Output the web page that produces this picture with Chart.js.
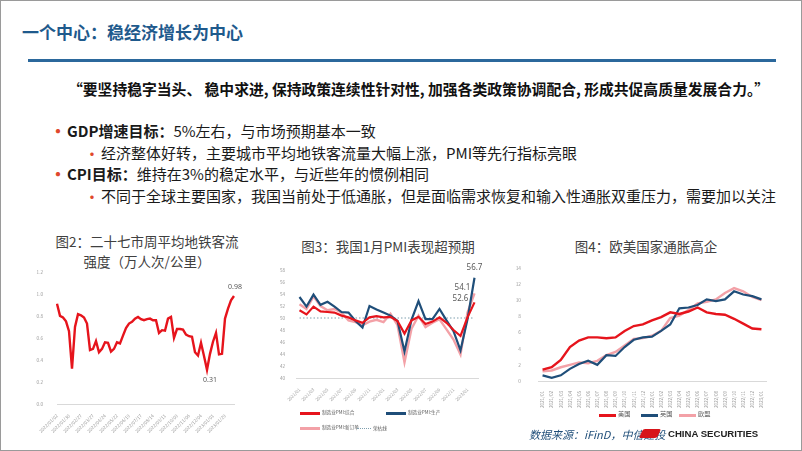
<!DOCTYPE html>
<html><head><meta charset="utf-8">
<script src="https://cdn.jsdelivr.net/npm/chart.js@4.4.1/dist/chart.umd.min.js"></script>
<style>
html,body{margin:0;padding:0;background:#fff;}
#slide{position:relative;width:802px;height:451px;overflow:hidden;box-sizing:border-box;border:1px solid #9a9a9a;font-family:"Noto Sans CJK SC","Noto Sans",sans-serif;color:#1a1a1a;}
.abs{position:absolute;white-space:nowrap;}
.title{left:21px;top:19px;font-size:17px;line-height:24px;font-weight:bold;color:#1f5a8c;}
.rule{left:27px;top:58px;width:748px;height:3px;background:#2b689c;}
.quote{left:67px;top:78px;font-size:14.8px;line-height:20px;font-weight:bold;color:#111;}
.b1,.b2{font-size:15px;line-height:20px;color:#1a1a1a;}
.dot1{color:#e0482c;font-size:20px;line-height:20px;}
.dot2{color:#e0482c;font-size:16px;line-height:20px;}
.ctitle{font-size:13.5px;line-height:18px;color:#404040;text-align:center;}
.box{position:absolute;}
.lg{position:absolute;font-size:4.6px;line-height:6px;color:#595959;white-space:nowrap;}
.smp{position:absolute;height:0;}
.foot{left:528px;top:425px;font-size:11px;line-height:16px;font-style:italic;color:#1f4e79;}
.cs{left:667px;top:425px;font-size:9.6px;line-height:16px;font-weight:bold;color:#222;font-family:"Liberation Sans",Arial,sans-serif;}
</style></head>
<body>
<div id="slide">
  <div class="abs title">一个中心：稳经济增长为中心</div>
  <div class="abs rule"></div>
  <div class="abs quote">“要坚持稳字当头、 稳中求进, 保持政策连续性针对性, 加强各类政策协调配合, 形成共促高质量发展合力。”</div>

  <div class="abs dot1" style="left:47px;top:120px;">•</div>
  <div class="abs b1" style="left:66px;top:120px;"><b>GDP增速目标：</b>5%左右，与市场预期基本一致</div>
  <div class="abs dot2" style="left:83px;top:142px;">•</div>
  <div class="abs b2" style="left:100px;top:142px;">经济整体好转，主要城市平均地铁客流量大幅上涨，PMI等先行指标亮眼</div>
  <div class="abs dot1" style="left:47px;top:163px;">•</div>
  <div class="abs b1" style="left:66px;top:163px;"><b>CPI目标：</b>维持在3%的稳定水平，与近些年的惯例相同</div>
  <div class="abs dot2" style="left:83px;top:185px;">•</div>
  <div class="abs b2" style="left:100px;top:185px;">不同于全球主要国家，我国当前处于低通胀，但是面临需求恢复和输入性通胀双重压力，需要加以关注</div>

  <div class="abs ctitle" style="left:46px;top:231px;width:200px;">图2：二十七市周平均地铁客流</div>
  <div class="abs ctitle" style="left:46px;top:251px;width:200px;">强度（万人次/公里）</div>
  <div class="abs ctitle" style="left:287px;top:236px;width:200px;">图3：我国1月PMI表现超预期</div>
  <div class="abs ctitle" style="left:545px;top:236px;width:200px;">图4：欧美国家通胀高企</div>

  <div class="box" style="left:30px;top:262px;width:216px;height:171px;"><canvas id="c2"></canvas></div>
  <div class="box" style="left:268px;top:262px;width:220px;height:143px;"><canvas id="c3"></canvas></div>
  <div class="box" style="left:500px;top:255px;width:270px;height:155px;"><canvas id="c4"></canvas></div>

  <div id="lg3"></div>
  <div id="lg4"></div>

  <div class="abs foot">数据来源：iFinD，中信建投</div>
  <div class="abs" style="left:640px;top:428px;width:18px;height:9px;background:#d7141a;transform:skewX(-25deg);border-radius:2px;"></div>
  <div class="abs cs">CHINA SECURITIES</div>
</div>
<script>
// ---------- DATA ----------
const subwayLabels = [
 '2022/01/02','2022/01/09','2022/01/16','2022/01/23','2022/01/30','2022/02/06','2022/02/13','2022/02/20','2022/02/27',
 '2022/03/06','2022/03/13','2022/03/20','2022/03/27','2022/04/03','2022/04/10','2022/04/17','2022/04/24',
 '2022/05/01','2022/05/08','2022/05/15','2022/05/22','2022/05/29','2022/06/05','2022/06/12','2022/06/19','2022/06/26',
 '2022/07/03','2022/07/10','2022/07/17','2022/07/24','2022/07/31','2022/08/07','2022/08/14','2022/08/21','2022/08/28',
 '2022/09/04','2022/09/11','2022/09/18','2022/09/25','2022/10/02','2022/10/09','2022/10/16','2022/10/23','2022/10/30',
 '2022/11/06','2022/11/13','2022/11/20','2022/11/27','2022/12/04','2022/12/11','2022/12/18','2022/12/25',
 '2023/01/01','2023/01/08','2023/01/15','2023/01/22','2023/01/29','2023/02/05','2023/02/12','2023/02/19'];
const subwayValues = [
 0.91,0.80,0.785,0.75,0.66,0.32,0.70,0.815,0.805,0.785,0.73,0.49,0.50,0.57,0.47,0.50,0.56,0.555,0.475,0.50,
 0.56,0.55,0.62,0.69,0.73,0.745,0.775,0.79,0.77,0.76,0.77,0.775,0.76,0.76,0.645,0.67,0.665,0.775,0.79,0.60,
 0.68,0.68,0.675,0.63,0.615,0.61,0.47,0.44,0.555,0.435,0.31,0.455,0.565,0.645,0.45,0.455,0.775,0.865,0.94,0.98];

const pmiLabels = ['2021/01','2021/02','2021/03','2021/04','2021/05','2021/06','2021/07','2021/08','2021/09','2021/10','2021/11','2021/12',
 '2022/01','2022/02','2022/03','2022/04','2022/05','2022/06','2022/07','2022/08','2022/09','2022/10','2022/11','2022/12','2023/01','2023/02'];
const pmiComposite  = [51.3,50.6,51.9,51.1,51.0,50.9,50.4,50.1,49.6,49.2,50.1,50.3,50.1,50.2,49.5,47.4,49.6,50.2,49.0,49.4,50.1,49.2,48.0,47.0,50.1,52.6];
const pmiProduction = [53.5,51.9,53.9,52.2,52.7,51.9,51.0,50.9,49.5,48.4,52.0,51.4,50.9,50.4,49.5,44.4,49.7,52.8,49.8,49.8,51.5,49.6,47.8,44.6,49.8,56.7];
const pmiNewOrders  = [52.3,51.5,53.6,52.0,51.3,51.5,50.9,49.6,49.3,48.8,49.4,49.7,49.3,50.7,48.8,42.6,48.2,50.4,48.5,49.2,49.8,48.1,46.4,43.9,50.9,54.1];
const pmiThreshold  = [50,50,50,50,50,50,50,50,50,50,50,50,50,50,50,50,50,50,50,50,50,50,50,50,50,50];
const pmiNames = ['制造业PMI:综合','制造业PMI:生产','制造业PMI:新订单','荣枯线'];

const cpiLabels = ['2021/01','2021/02','2021/03','2021/04','2021/05','2021/06','2021/07','2021/08','2021/09','2021/10','2021/11','2021/12',
 '2022/01','2022/02','2022/03','2022/04','2022/05','2022/06','2022/07','2022/08','2022/09','2022/10','2022/11','2022/12','2023/01'];
const cpiUS = [1.4,1.7,2.6,4.2,5.0,5.4,5.4,5.3,5.4,6.2,6.8,7.0,7.5,7.9,8.5,8.3,8.6,9.1,8.5,8.3,8.2,7.7,7.1,6.5,6.4];
const cpiUK = [0.7,0.4,0.7,1.5,2.1,2.5,2.0,3.2,3.1,4.2,5.1,5.4,5.5,6.2,7.0,9.0,9.1,9.4,10.1,9.9,10.1,11.1,10.7,10.5,10.1];
const cpiEU = [1.2,1.3,1.7,2.0,2.3,2.2,2.5,3.2,3.6,4.4,5.2,5.3,5.6,6.2,7.8,8.1,8.8,9.6,9.8,10.1,10.9,11.5,11.1,10.4,10.0];
const cpiNames = ['美国','英国','欧盟'];

// ---------- STYLE ----------
const RED = '#e6141c', BLUE = '#1f4e79', PINK = '#f3a1a7', GRID = '#d9d9d9', TICK = '#9a9a9a';
Chart.defaults.font.family = '"Noto Sans CJK SC","Noto Sans",sans-serif';
Chart.defaults.animation = false;

const pointLabels = {
  id: 'pointLabels',
  afterDatasetsDraw(chart, args, opts) {
    const ctx = chart.ctx;
    (opts.items || []).forEach(it => {
      const el = chart.getDatasetMeta(it.ds).data[it.idx];
      const v = chart.data.datasets[it.ds].data[it.idx];
      ctx.save();
      ctx.font = opts.font; ctx.fillStyle = opts.color;
      ctx.textAlign = 'center'; ctx.textBaseline = 'middle';
      ctx.fillText(v.toFixed(opts.digits), el.x + it.dx, el.y + it.dy);
      ctx.restore();
    });
  }
};

function lineDs(label, data, color, width, extra) {
  return Object.assign({label, data, borderColor: color, backgroundColor: color, borderWidth: width,
    pointRadius: 0, tension: 0, fill: false}, extra || {});
}

// Chart 2
const minIdx = subwayValues.indexOf(Math.min(...subwayValues));
new Chart(document.getElementById('c2'), {
  type: 'line',
  data: { labels: subwayLabels, datasets: [lineDs('地铁客流强度', subwayValues, RED, 2.4)] },
  options: {
    responsive: true, maintainAspectRatio: false,
    layout: { padding: { top: 5, right: 13, left: 0, bottom: 0 } },
    plugins: { legend: { display: false }, tooltip: { enabled: false },
      pointLabels: { font: '7px "Noto Sans","Noto Sans CJK SC"', color: '#595959', digits: 2,
        items: [{ ds: 0, idx: subwayValues.length - 1, dx: 1, dy: -9 }, { ds: 0, idx: minIdx, dx: 3, dy: 10 }] } },
    scales: {
      x: { offset: false, grid: { display: false }, border: { color: GRID },
        ticks: { autoSkip: false, maxRotation: 45, minRotation: 45, font: { size: 4.6 }, color: TICK, padding: 1,
          callback: function (v, i) { return i % 4 === 0 ? this.getLabelForValue(v) : ''; } },
        afterFit: s => { s.height = 30; } },
      y: { min: 0, max: 1.2, grid: { display: false }, border: { display: false },
        ticks: { stepSize: 0.2, font: { size: 4.6 }, color: TICK, padding: 6, callback: v => v.toFixed(1) },
        afterFit: s => { s.width = 26; } }
    }
  },
  plugins: [pointLabels]
});

// Chart 3
new Chart(document.getElementById('c3'), {
  type: 'line',
  data: { labels: pmiLabels, datasets: [
    lineDs(pmiNames[0], pmiComposite, RED, 2.2),
    lineDs(pmiNames[1], pmiProduction, BLUE, 2.2),
    lineDs(pmiNames[2], pmiNewOrders, PINK, 2.4),
    lineDs(pmiNames[3], pmiThreshold, '#7f9fae', 1.1, { borderDash: [1.5, 2] })
  ]},
  options: {
    responsive: true, maintainAspectRatio: false,
    layout: { padding: { top: 7, right: 11, left: 0, bottom: 0 } },
    plugins: { legend: { display: false }, tooltip: { enabled: false },
      pointLabels: { font: '8px "Noto Sans","Noto Sans CJK SC"', color: '#595959', digits: 1,
        items: [{ ds: 1, idx: 25, dx: 0, dy: -10 }, { ds: 2, idx: 25, dx: -12, dy: -6 }, { ds: 0, idx: 25, dx: -14, dy: -4 }] } },
    scales: {
      x: { offset: true, grid: { display: false }, border: { color: GRID },
        ticks: { autoSkip: false, maxRotation: 45, minRotation: 45, font: { size: 4.4 }, color: TICK, padding: 1,
          callback: function (v, i) { return i % 2 === 0 ? this.getLabelForValue(v) : ''; } },
        afterFit: s => { s.height = 28; } },
      y: { min: 40, max: 58, grid: { display: false }, border: { display: false },
        ticks: { stepSize: 2, font: { size: 4.6 }, color: TICK, padding: 3 },
        afterFit: s => { s.width = 27; } }
    }
  },
  plugins: [pointLabels]
});

// Chart 4
new Chart(document.getElementById('c4'), {
  type: 'line',
  data: { labels: cpiLabels, datasets: [
    lineDs(cpiNames[0], cpiUS, RED, 2.4),
    lineDs(cpiNames[1], cpiUK, BLUE, 2.2),
    lineDs(cpiNames[2], cpiEU, PINK, 2.4)
  ]},
  options: {
    responsive: true, maintainAspectRatio: false,
    layout: { padding: { top: 7, right: 5, left: 0, bottom: 0 } },
    plugins: { legend: { display: false }, tooltip: { enabled: false } },
    scales: {
      x: { offset: true, grid: { display: false }, border: { color: GRID },
        ticks: { autoSkip: false, maxRotation: 90, minRotation: 90, font: { size: 4.6 }, color: TICK, padding: 2 },
        afterFit: s => { s.height = 30; } },
      y: { min: 0, max: 14, grid: { display: false }, border: { display: false },
        ticks: { stepSize: 2, font: { size: 4.8 }, color: TICK, padding: 9 },
        afterFit: s => { s.width = 37; } }
    }
  },
  plugins: [pointLabels]
});

// HTML legends (labels from the name arrays)
function legendItem(parent, x, y, w, color, style, text, fontSize) {
  const s = document.createElement('div');
  s.className = 'smp';
  s.style.cssText = `left:${x}px;top:${y}px;width:${w}px;border-top:${style} ${color};`;
  parent.appendChild(s);
  const t = document.createElement('div');
  t.className = 'lg';
  t.style.cssText = `left:${x + w + 2}px;top:${y - 3}px;font-size:${fontSize}px;`;
  t.textContent = text;
  parent.appendChild(t);
}
const lg3 = document.getElementById('lg3');
legendItem(lg3, 299, 411, 20, RED, '3px solid', pmiNames[0], 4.6);
legendItem(lg3, 385, 411, 20, BLUE, '3px solid', pmiNames[1], 4.6);
legendItem(lg3, 299, 426, 20, PINK, '3px solid', pmiNames[2], 4.6);
legendItem(lg3, 356, 427, 14, '#7f9fae', '1.5px dotted', pmiNames[3], 4.6);
const lg4 = document.getElementById('lg4');
legendItem(lg4, 598, 413, 17, RED, '3px solid', cpiNames[0], 6.2);
legendItem(lg4, 640, 413, 17, BLUE, '3px solid', cpiNames[1], 6.2);
legendItem(lg4, 678, 413, 17, PINK, '3px solid', cpiNames[2], 6.2);
</script>
</body></html>
